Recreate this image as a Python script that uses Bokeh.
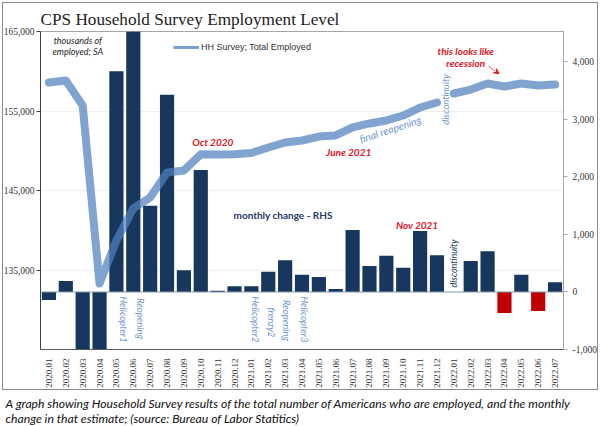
import math
import numpy as np
from bokeh.plotting import figure
from bokeh.models import (Range1d, FactorRange, LinearAxis, FixedTicker, NumeralTickFormatter,
                          Label, Span, Arrow, VeeHead, Legend, LegendItem, ColumnDataSource,
                          Title)
from bokeh.embed import file_html
from bokeh.resources import INLINE

# ---------------- data ----------------
months = ["2020.01", "2020.02", "2020.03", "2020.04", "2020.05", "2020.06", "2020.07", "2020.08",
          "2020.09", "2020.10", "2020.11", "2020.12", "2021.01", "2021.02", "2021.03", "2021.04",
          "2021.05", "2021.06", "2021.07", "2021.08", "2021.09", "2021.10", "2021.11", "2021.12",
          "2022.01", "2022.02", "2022.03", "2022.04", "2022.05", "2022.06", "2022.07"]

# HH Survey; Total Employed (thousands, SA) - left axis
employed = [158590, 158840, 155690, 133300, 138710, 142740, 144120, 147260,
            147520, 149550, 149520, 149560, 149720, 150410, 151040, 151290,
            151790, 151920, 152930, 153430, 153810, 154430, 155440, 156070,
            157200, 157700, 158460, 158080, 158460, 158210, 158330]

# monthly change (thousands) - right axis ; None = not shown (discontinuity)
change = [-140, 190, -3000, -22400, 3840, 4880, 1500, 3430,
          380, 2120, 20, 100, 100, 350, 550, 300,
          260, 50, 1080, 450, 630, 420, 1060, 640,
          None, 540, 710, -365, 300, -330, 170]

break_index = 24  # series discontinuity between 2021.12 and 2022.01

left_ticks = [135000, 145000, 155000, 165000]
right_ticks = [-1000, 0, 1000, 2000, 3000, 4000]

NAVY = "#17375E"
RED = "#C00000"
LINE_BLUE = "#4F81BD"
ANN_RED = "#E0141E"
ANN_BLUE = "#6F98CC"
BORDER = "#8C8C8C"


def cx(m):
    """synthetic x coordinate of a category centre"""
    return months.index(m) + 0.5


# ---------------- figure ----------------
W, H = 600, 426
p = figure(width=W, height=H, x_range=FactorRange(*months, range_padding=0),
           y_range=Range1d(125000, 165000), toolbar_location=None, output_backend="svg",
           min_border_left=40, min_border_right=36, min_border_top=31, min_border_bottom=77)
p.extra_y_ranges = {"chg": Range1d(-1000, 4530)}

# outer chart border: thin CSS lines behind a transparent canvas border area
g = "linear-gradient(%s,%s)" % (BORDER, BORDER)
p.border_fill_color = None
p.styles = {"background": (f"{g} 2px 2px / 596px 1px no-repeat, "
                           f"{g} 2px 389px / 596px 1px no-repeat, "
                           f"{g} 2px 2px / 1px 388px no-repeat, "
                           f"{g} 597px 2px / 1px 388px no-repeat, #ffffff")}

p.title.text = "CPS Household Survey Employment Level"
p.title.text_font = "Liberation Serif"
p.title.text_font_size = "17.2px"
p.title.text_font_style = "normal"
p.title.text_color = "#222222"
p.title.align = "left"
p.title.offset = 0
p.title.standoff = 6

p.outline_line_color = "#A6A6A6"
p.xgrid.visible = False
p.ygrid.grid_line_color = "#EFEFEF"

# left axis
p.yaxis.ticker = FixedTicker(ticks=left_ticks)
p.yaxis.formatter = NumeralTickFormatter(format="0,0")
p.yaxis.major_label_text_font = "Liberation Serif"
p.yaxis.major_label_text_font_size = "9.5px"
p.yaxis.major_label_text_color = "#333333"
p.yaxis.axis_line_color = "#404040"
p.yaxis.major_tick_line_color = "#404040"
p.yaxis.major_tick_out = 4
p.yaxis.major_tick_in = 0
p.yaxis.minor_tick_line_color = None
p.yaxis.major_label_standoff = 2

# right axis
ra = LinearAxis(y_range_name="chg", ticker=FixedTicker(ticks=right_ticks),
                formatter=NumeralTickFormatter(format="0,0"))
ra.major_label_text_font = "Liberation Serif"
ra.major_label_text_font_size = "9.5px"
ra.major_label_text_color = "#333333"
ra.axis_line_color = "#A6A6A6"
ra.major_tick_line_color = "#A6A6A6"
ra.major_tick_out = 4
ra.major_tick_in = 0
ra.minor_tick_line_color = None
ra.major_label_standoff = 5
p.add_layout(ra, "right")

# x axis
p.xaxis.major_label_orientation = math.pi / 2
p.xaxis.major_label_text_font = "Liberation Serif"
p.xaxis.major_label_text_font_size = "9px"
p.xaxis.major_label_text_color = "#333333"
p.xaxis.axis_line_color = "#595959"
p.xaxis.major_tick_line_color = None
p.xaxis.major_label_standoff = 3

# bars
bar_colors = [RED if (v is not None and v < 0 and m.startswith("2022")) else NAVY
              for m, v in zip(months, change)]
bar_src = ColumnDataSource(dict(x=months, top=np.array(change, dtype=float), color=bar_colors))
p.vbar(x="x", top="top", bottom=0, width=0.84, color="color", line_color=None,
       source=bar_src, y_range_name="chg")

p.add_layout(Span(location=0, dimension="width", y_range_name="chg",
                  line_color="#8497B0", line_width=1))

# employment line (two pieces, discontinuity)
for a, b in [(0, break_index), (break_index, len(months))]:
    p.line(months[a:b], employed[a:b], line_width=8, line_color=LINE_BLUE, line_alpha=0.72,
           line_join="round", line_cap="round")

# legend (thin swatch)
leg_r = p.line(months[:break_index], employed[:break_index], line_width=3,
               line_color="#7BA0CD", visible=False)
legend = Legend(items=[LegendItem(label="HH Survey; Total Employed", renderers=[leg_r])],
                location=(133, 297), padding=0, margin=0, spacing=0,
                glyph_width=26, glyph_height=10, label_height=10, label_standoff=2,
                border_line_color=None, background_fill_alpha=0,
                label_text_font="Liberation Sans", label_text_font_size="9px",
                label_text_color="#333333")
p.add_layout(legend)


# annotations
def lab(text, m, y, dx=0, color=ANN_RED, size="10px", style="bold italic",
        angle=0.0, align="center"):
    p.add_layout(Label(x=cx(m), y=y, x_offset=dx, text=text, text_font="Lato",
                       text_font_size=size, text_font_style=style, text_color=color,
                       text_align=align, text_baseline="middle", angle=angle))


lab("thousands of", "2020.02", 163870, 12, color="#262626", size="9px", style="italic")
lab("employed; SA", "2020.02", 162480, 12, color="#262626", size="9px", style="italic")
lab("Oct 2020", "2020.10", 151160, 12)
lab("June 2021", "2021.06", 149780, 13)
lab("final reopening", "2021.09", 152700, 4, color=ANN_BLUE, size="10.5px", style="italic",
    angle=0.32)
lab("discontinuity", "2022.01", 156450, -8, color=ANN_BLUE, size="9.5px", style="italic",
    angle=math.pi / 2)
lab("this looks like", "2022.02", 162610, -5)
lab("recession", "2022.02", 160980, -5)
lab("monthly change - RHS", "2020.12", 141980, -1, color="#1F3864", size="10px",
    style="bold", align="left")
lab("Nov 2021", "2021.11", 140720, -3)
lab("discontinuity", "2022.01", 135820, 0, color="#1F3864", size="9px", style="italic",
    angle=math.pi / 2)
for txt, m, dx, yv in [("Helicopter1", "2020.05", 7.5, 128770),
                       ("Reopening", "2020.06", 7, 128900),
                       ("Helicopter2", "2021.01", 4, 128770),
                       ("frenzy2", "2021.02", 3, 128400),
                       ("Reopening", "2021.03", 1.5, 128650),
                       ("Helicopter3", "2021.04", 2.5, 128770)]:
    lab(txt, m, yv, dx, color=ANN_BLUE, size="9.5px", style="italic", angle=-math.pi / 2)

p.add_layout(Arrow(x_start=cx("2022.03") + 0.07, y_start=160600,
                   x_end=cx("2022.03") + 0.68, y_end=159700,
                   line_color=ANN_RED, line_width=1, line_dash="2 1",
                   end=VeeHead(size=5, line_color=ANN_RED, fill_color=ANN_RED)))

# ---------------- caption (below the chart) ----------------
cap_lines = ["A graph showing Household Survey results of the total number of Americans who are employed, and the monthly",
             "change in that estimate; (source: Bureau of Labor Statitics)"]
for i, t in enumerate(cap_lines):
    p.add_layout(Title(text=t, align="left", offset=-35, text_font="Lato",
                       text_font_size="12.2px", text_font_style="italic",
                       text_color="#111111", standoff=(6 if i == 0 else -9.5)), "below")

open("out.html", "w").write(file_html(p, INLINE))
